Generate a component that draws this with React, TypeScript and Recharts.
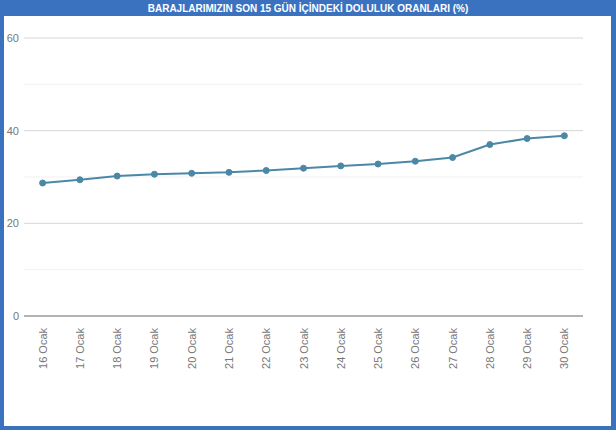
import React from 'react';
import { LineChart, Line, XAxis, YAxis, ReferenceLine } from 'recharts';

const title = 'BARAJLARIMIZIN SON 15 GÜN İÇİNDEKİ DOLULUK ORANLARI (%)';

const days = [
  '16 Ocak', '17 Ocak', '18 Ocak', '19 Ocak', '20 Ocak', '21 Ocak', '22 Ocak', '23 Ocak',
  '24 Ocak', '25 Ocak', '26 Ocak', '27 Ocak', '28 Ocak', '29 Ocak', '30 Ocak',
];

const fillRates = [28.7, 29.4, 30.2, 30.6, 30.8, 31.0, 31.4, 31.9, 32.4, 32.8, 33.4, 34.2, 37.0, 38.3, 38.9];

const yTicks = [0, 20, 40, 60];
const majorGrid = [20, 40, 60];
const minorGrid = [10, 30, 50];

const chartData = days.map((day, i) => ({ day, rate: fillRates[i] }));

const XTick = (props: any) => {
  const { x, y, payload } = props;
  return (
    <text
      x={x}
      y={y}
      transform={`rotate(-90, ${x}, ${y})`}
      textAnchor="end"
      dy={4}
      dx={-10}
      fill="#777"
      fontSize={11}
      fontFamily="Liberation Sans, Arial, sans-serif"
    >
      {payload.value}
    </text>
  );
};

export default function App() {
  return (
    <div
      style={{
        position: 'fixed',
        top: 0,
        left: 0,
        width: 616,
        height: 430,
        background: '#3a72c0',
        fontFamily: 'Liberation Sans, Arial, sans-serif',
      }}
    >
      <div
        style={{
          position: 'absolute',
          top: 0,
          left: 0,
          width: 616,
          height: 16,
          lineHeight: '17px',
          textAlign: 'center',
          color: '#fff',
          fontWeight: 'bold',
          fontSize: 10,
        }}
      >
        {title}
      </div>
      <div
        style={{
          position: 'absolute',
          top: 16,
          left: 4,
          width: 607,
          height: 410,
          background: '#fff',
        }}
      />
      <div style={{ position: 'absolute', top: 0, left: 0 }}>
        <LineChart width={616} height={430} data={chartData} margin={{ top: 38, right: 33, bottom: 0, left: 0 }}>
          {minorGrid.map((v) => (
            <ReferenceLine key={'m' + v} y={v} stroke="#f1f1f1" strokeWidth={1} />
          ))}
          {majorGrid.map((v) => (
            <ReferenceLine key={'M' + v} y={v} stroke="#d6d6d6" strokeWidth={1} />
          ))}
          <XAxis
            dataKey="day"
            scale="band"
            interval={0}
            height={114}
            tickLine={false}
            tickSize={0}
            axisLine={{ stroke: '#666', strokeWidth: 1 }}
            tick={<XTick />}
          />
          <YAxis
            width={24}
            domain={[0, 60]}
            ticks={yTicks}
            tickLine={false}
            tickSize={0}
            axisLine={false}
            tick={{ fill: '#777', fontSize: 11, fontFamily: 'Liberation Sans, Arial, sans-serif' }}
            tickMargin={5}
          />
          <Line
            type="linear"
            dataKey="rate"
            stroke="#4b88a6"
            strokeWidth={2}
            dot={{ r: 3, fill: '#4b88a6', stroke: '#4b88a6', strokeWidth: 1 }}
            isAnimationActive={false}
          />
        </LineChart>
      </div>
    </div>
  );
}
